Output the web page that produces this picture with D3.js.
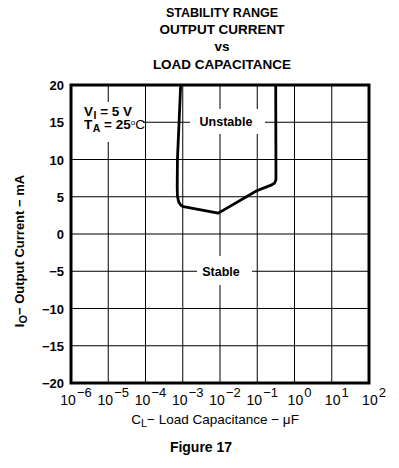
<!DOCTYPE html>
<html lang="en">
<head>
<meta charset="UTF-8">
<title>Stability Range</title>
<script src="https://d3js.org/d3.v7.min.js"></script>
<style>
  body { margin: 0; background: #fff; }
  svg { display: block; font-family: Arial, "Liberation Sans", sans-serif; }
  .grid line { stroke: #000; stroke-width: 1; }
  .tick-lbl { font-size: 13px; font-weight: bold; }
</style>
</head>
<body>
<svg width="399" height="468"></svg>
<script>
// boundary between stable / unstable region
const capacitance = [8.8e-4, 7.2e-4, 7.1e-4, 7.2e-4, 7.8e-4, 8.9e-4, 1.04e-3, 9.0e-3, 9.7e-2, 0.245, 0.29, 0.318, 0.313];
const current =     [20,     10,     6.2,    5.1,    4.3,    3.85,   3.67,    2.8,    5.8,    6.6,   6.8,  7.3,   20];

const xExponents = [-6, -5, -4, -3, -2, -1, 0, 1, 2];
const yTicks = [-20, -15, -10, -5, 0, 5, 10, 15, 20];
const titleLines = ["STABILITY RANGE", "OUTPUT CURRENT", "vs", "LOAD CAPACITANCE"];

const svg = d3.select("svg");

const x = d3.scaleLog().domain([1e-6, 1e2]).range([71, 369]);
const y = d3.scaleLinear().domain([-20, 20]).range([383, 85]);

// title
const titleY = [17, 34, 51, 69];
svg.selectAll(".title").data(titleLines).enter().append("text")
  .attr("x", 222)
  .attr("y", (d, i) => titleY[i])
  .attr("text-anchor", "middle")
  .style("font-weight", "bold")
  .style("font-size", (d, i) => i === 0 ? "12.5px" : "13.5px")
  .text(d => d);

// grid
const grid = svg.append("g").attr("class", "grid");
grid.selectAll(".vx").data(xExponents).enter().append("line")
  .attr("x1", d => x(Math.pow(10, d))).attr("x2", d => x(Math.pow(10, d)))
  .attr("y1", y(20)).attr("y2", y(-20));
grid.selectAll(".hy").data(yTicks).enter().append("line")
  .attr("x1", x(1e-6)).attr("x2", x(1e2))
  .attr("y1", d => y(d)).attr("y2", d => y(d));

// white patches behind labels
const boxes = [[71, 102, 72, 40], [190, 109, 75, 25], [197, 256, 55, 29]];
svg.selectAll(".bg").data(boxes).enter().append("rect")
  .attr("x", d => d[0]).attr("y", d => d[1])
  .attr("width", d => d[2]).attr("height", d => d[3])
  .attr("fill", "#fff");

// frame
svg.append("rect")
  .attr("x", x(1e-6)).attr("y", y(20))
  .attr("width", x(1e2) - x(1e-6)).attr("height", y(-20) - y(20))
  .attr("fill", "none").attr("stroke", "#000").attr("stroke-width", 3);

// curve
const pts = capacitance.map((c, i) => [c, current[i]]);
svg.append("path")
  .datum(pts)
  .attr("fill", "none")
  .attr("stroke", "#000")
  .attr("stroke-width", 2.8)
  .attr("stroke-linejoin", "round")
  .attr("d", d3.line().x(d => x(d[0])).y(d => y(d[1])));

// region labels
svg.append("text").attr("x", 226).attr("y", 126).attr("text-anchor", "middle")
  .style("font-size", "12.5px").style("font-weight", "bold").text("Unstable");
svg.append("text").attr("x", 221).attr("y", 276).attr("text-anchor", "middle")
  .style("font-size", "12.5px").style("font-weight", "bold").text("Stable");

// conditions
const c1 = svg.append("text").attr("x", 84).attr("y", 116).style("font-size", "13.5px").style("font-weight", "bold");
c1.append("tspan").text("V");
c1.append("tspan").attr("dx", 0.5).attr("dy", 3).style("font-size", "10.5px").text("I");
c1.append("tspan").attr("dy", -3).text(" = 5 V");
const c2 = svg.append("text").attr("x", 84).attr("y", 129).style("font-size", "13.5px").style("font-weight", "bold");
c2.append("tspan").text("T");
c2.append("tspan").attr("dx", 0.5).attr("dy", 3).style("font-size", "10.5px").text("A");
c2.append("tspan").attr("dy", -3).text(" = 25");
c2.append("tspan").style("font-size", "8px").style("font-weight", "normal").attr("dy", -4).text("o");
c2.append("tspan").attr("dy", 4).style("font-weight", "normal").text("C");

// y tick labels
svg.selectAll(".ylbl").data(yTicks).enter().append("text")
  .attr("class", "tick-lbl")
  .attr("x", 64)
  .attr("y", d => y(d) + 5)
  .attr("text-anchor", "end")
  .text(d => d < 0 ? "\u2212" + Math.abs(d) : d);

// x tick labels
const xl = svg.selectAll(".xlbl").data(xExponents).enter().append("text")
  .attr("x", d => x(Math.pow(10, d)) + 5)
  .attr("y", 405)
  .attr("text-anchor", "middle")
  .style("font-size", "14px");
xl.append("tspan").text("10");
xl.append("tspan").attr("dx", 1).attr("dy", -8).style("font-size", "13px")
  .text(d => d < 0 ? "\u2212" + Math.abs(d) : d);

// axis titles
const xt = svg.append("text").attr("x", 215).attr("y", 424).attr("text-anchor", "middle")
  .style("font-size", "13.5px");
xt.append("tspan").text("C");
xt.append("tspan").attr("dy", 3).style("font-size", "11px").text("L");
xt.append("tspan").attr("dy", -3).text("\u2212 Load Capacitance \u2212 \u03bcF");

const yt = svg.append("text")
  .attr("transform", "translate(24,251) rotate(-90)")
  .attr("text-anchor", "middle")
  .style("font-size", "13px").style("font-weight", "bold");
yt.append("tspan").text("I");
yt.append("tspan").attr("dy", 3).style("font-size", "11px").text("O");
yt.append("tspan").attr("dy", -3).text("\u2212 Output Current \u2212 mA");

svg.append("text").attr("x", 201).attr("y", 452).attr("text-anchor", "middle")
  .style("font-size", "14px").style("font-weight", "bold").text("Figure 17");
</script>
</body>
</html>
